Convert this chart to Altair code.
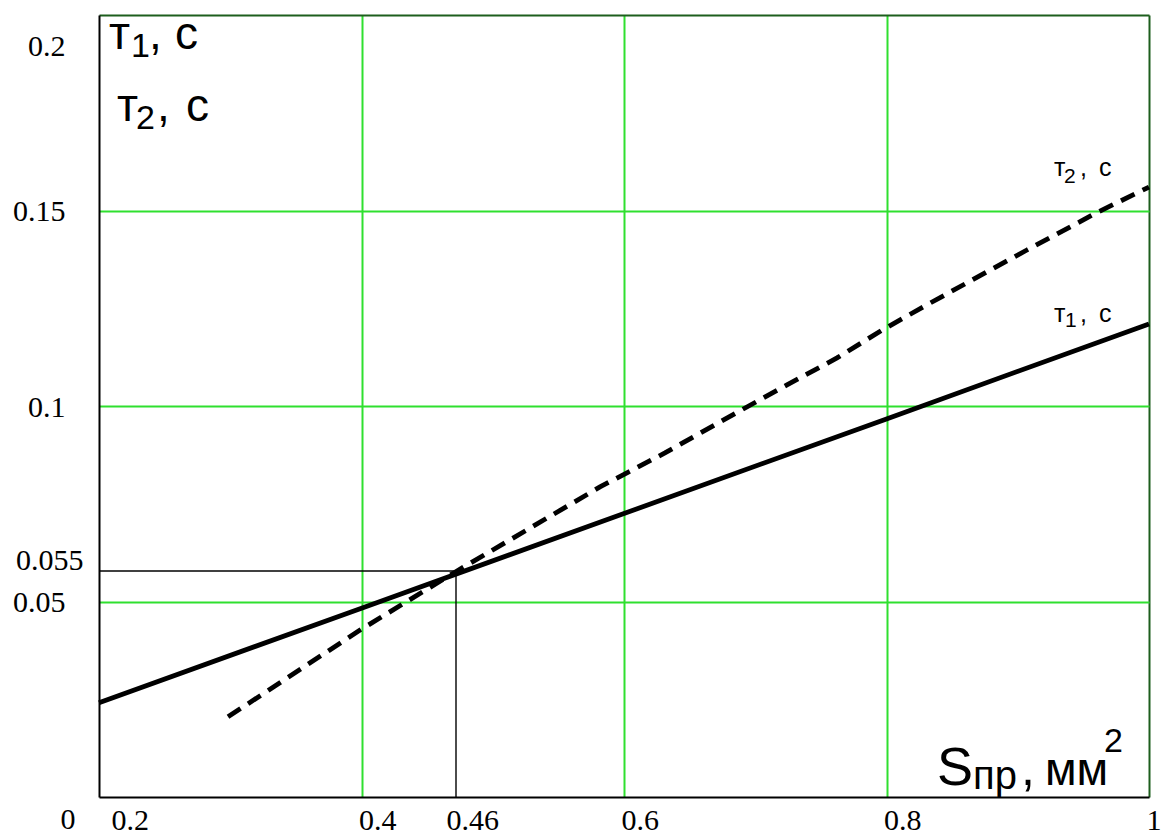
import altair as alt
import pandas as pd

# ---- data ----
x_tick_values = [0.2, 0.4, 0.472, 0.6, 0.8, 1.0]
x_tick_labels = ["0.2", "0.4", "0.46", "0.6", "0.8", "1"]
y_tick_values = [0, 0.05, 0.0578, 0.1, 0.15, 0.2]
y_tick_labels = ["0", "0.05", "0.055", "0.1", "0.15", "0.2"]

s_tau1 = [0.2, 0.4, 0.6, 0.8, 1.0]
tau1 = [0.0241, 0.0483, 0.0725, 0.0967, 0.1210]

s_tau2 = [0.2983, 0.3989, 0.4712, 0.5817, 0.6312, 0.6869, 0.7242,
          0.7623, 0.7966, 0.8331, 0.9070, 0.9611, 1.0]
tau2 = [0.0205, 0.0427, 0.0575, 0.0793, 0.0880, 0.0985, 0.1054,
        0.1123, 0.1194, 0.1263, 0.1399, 0.1496, 0.1560]

marker_s = 0.472
marker_tau = 0.0578

# annotation pieces (text, s, tau, font size)
ann_text = ["т", "1", ",", "с",
            "т", "2", ",", "с",
            "т", "2", ",", "с",
            "т", "1", ",", "с",
            "S", "пр", ",", "мм", "2"]
ann_s = [0.20762, 0.22438, 0.23810, 0.25790,
         0.21371, 0.22819, 0.24419, 0.26629,
         0.92762, 0.93524, 0.94743, 0.96190,
         0.92762, 0.93600, 0.94743, 0.96190,
         0.83848, 0.86590, 0.90248, 0.92076, 0.96571]
ann_tau = [0.19130, 0.18926, 0.19130, 0.19130,
           0.17289, 0.17084, 0.17289, 0.17289,
           0.15882, 0.15703, 0.15882, 0.15882,
           0.12148, 0.12020, 0.12148, 0.12148,
           0.00307, 0.00205, 0.00307, 0.00307, 0.01151]
ann_size = [46, 34, 46, 46,
            46, 34, 46, 46,
            25, 21, 25, 25,
            25, 21, 25, 25,
            54, 40, 50, 46, 34]

GREEN = "#2fe02f"
DARKGREEN = "#1d5e1d"


def label_expr(vals, labels):
    expr = "''"
    for v, l in reversed(list(zip(vals, labels))):
        expr = f"datum.value == {v} ? '{l}' : ({expr})"
    return expr


axis_x = alt.Axis(
    values=x_tick_values,
    labelExpr=label_expr(x_tick_values, x_tick_labels),
    title=None,
    ticks=False,
    labelFont="Liberation Serif",
    labelFontSize=30,
    labelColor="black",
    labelAlign="left",
    labelBaseline="top",
    labelPadding=8,
    labelOverlap=False,
    labelBound=False,
    labelFlush=False,
    labelOffset={"condition": [{"test": "datum.value == 0.2", "value": 12},
                               {"test": "datum.value == 0.472", "value": -10}],
                 "value": -3},
    domainColor="black",
    domainWidth=2,
    grid=True,
    gridWidth=2,
    gridColor={"condition": {"test": "datum.value == 1", "value": DARKGREEN}, "value": GREEN},
    gridOpacity={"condition": {"test": "datum.value == 0.472 || datum.value == 0.2", "value": 0},
                 "value": 1},
)

axis_y = alt.Axis(
    values=y_tick_values,
    labelExpr=label_expr(y_tick_values, y_tick_labels),
    title=None,
    ticks=False,
    labelFont="Liberation Serif",
    labelFontSize=30,
    labelColor="black",
    labelAlign="right",
    labelBaseline="middle",
    labelOverlap=False,
    labelBound=False,
    labelFlush=False,
    labelPadding={"condition": [{"test": "datum.value == 0", "value": 24},
                                {"test": "datum.value == 0.0578", "value": 16}],
                  "value": 34},
    labelOffset={"condition": [{"test": "datum.value == 0", "value": 22},
                               {"test": "datum.value == 0.2", "value": 31},
                               {"test": "datum.value == 0.0578", "value": -11}],
                 "value": 1},
    domainColor="black",
    domainWidth=2,
    grid=True,
    gridWidth=2,
    gridColor={"condition": {"test": "datum.value == 0.2", "value": DARKGREEN}, "value": GREEN},
    gridOpacity={"condition": {"test": "datum.value == 0 || datum.value == 0.0578", "value": 0},
                 "value": 1},
)

xscale = alt.Scale(domain=[0.2, 1.0], nice=False, zero=False)
yscale = alt.Scale(domain=[0, 0.2], nice=False, zero=False)

df1 = pd.DataFrame({"s": s_tau1, "tau": tau1})
df2 = pd.DataFrame({"s": s_tau2, "tau": tau2})
df_rules = pd.DataFrame({
    "s": [marker_s, s_tau1[0]],
    "s2": [marker_s, marker_s],
    "tau": [0, marker_tau],
    "tau2": [marker_tau, marker_tau],
})
df_ann = pd.DataFrame({"text": ann_text, "s": ann_s, "tau": ann_tau, "size": ann_size})

X = alt.X("s:Q", scale=xscale, axis=axis_x)
Y = alt.Y("tau:Q", scale=yscale, axis=axis_y)

rules = alt.Chart(df_rules).mark_rule(color="black", strokeWidth=1.4).encode(
    x=X, x2="s2:Q", y=Y, y2="tau2:Q"
)

line1 = alt.Chart(df1).mark_line(color="black", strokeWidth=4.8).encode(x=X, y=Y)
line2 = alt.Chart(df2).mark_line(color="black", strokeWidth=4.8, strokeDash=[15, 9]).encode(x=X, y=Y)

texts = alt.Chart(df_ann).mark_text(
    font="Liberation Sans", color="black", align="left", baseline="alphabetic"
).encode(
    x=X, y=Y, text="text:N", size=alt.Size("size:Q", scale=None, legend=None)
)

chart = alt.layer(rules, line1, line2, texts).properties(
    width=1050, height=782,
    autosize=alt.AutoSizeParams(type="none"),
    padding={"left": 99, "top": 15, "right": 16, "bottom": 37},
    background="white",
).configure_view(stroke=None)

chart.save("out.html", embed_options={"renderer": "svg", "actions": False})
